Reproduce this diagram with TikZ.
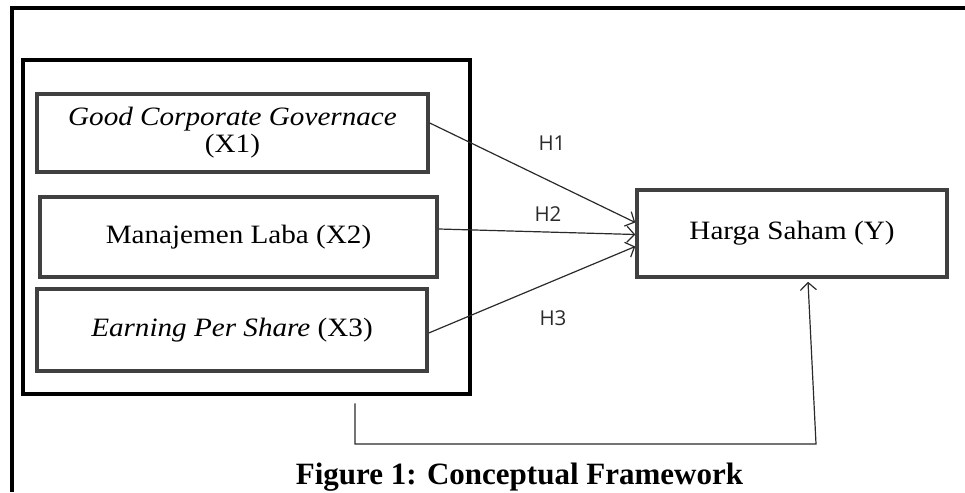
\documentclass[tikz,border=0pt]{standalone}
\usepackage{fontspec}
\setmainfont{Liberation Serif}
\newfontfamily\boxfont[FakeStretch=1.1]{Liberation Serif}
\newfontfamily\hypfont{Open Sans}
\usetikzlibrary{arrows.meta}
\definecolor{boxgray}{HTML}{404040}
\definecolor{linegray}{HTML}{2A2A2A}

\begin{document}
\begin{tikzpicture}[x=1pt,y=-1pt,
    var/.style={draw=boxgray,line width=3.5pt,minimum width=#1,align=center,
      inner sep=0pt,font=\boxfont\fontsize{26.5}{27}\selectfont},
    hyp/.style={font=\hypfont\fontsize{20.5}{22}\selectfont,text=linegray},
    link/.style={draw=linegray,line width=1.2pt,-{Straight Barb[length=7.5pt,width=16pt,line width=1.2pt]}}]
    \useasboundingbox (0,0) rectangle (965,492);

    % frame round the whole figure
    \draw[line width=3.5pt] (12,492) -- (12,8) -- (965,8);
    \draw (246.5,227) node[draw,line width=4.5pt,minimum width=447pt,minimum height=334pt] (group) {};

    \draw (232.5,133) node[var=391pt,minimum height=78pt] (X1) {\textit{Good Corporate Governace}\\(X1)};
    \draw (238.5,237) node[var=397pt,minimum height=80pt] (X2) {Manajemen Laba (X2)};
    \draw (232,330) node[var=390pt,minimum height=82pt] (X3) {\textit{Earning Per Share} (X3)};
    \draw (792,233.5) node[var=310pt,minimum height=87pt] (Y) {Harga Saham (Y)};

    \draw (552,143) node[hyp] (H1) {H1};
    \draw (548,214) node[hyp] (H2) {H2};
    \draw (553,318) node[hyp] (H3) {H3};

    \draw[link] ([yshift=10pt]X1.east) -- ([yshift=11pt]Y.west);
    \draw[link] ([yshift=8pt]X2.east) -- ([yshift=-1pt]Y.west);
    \draw[link] ([yshift=-3pt]X3.east) -- ([yshift=-13pt]Y.west);

    \coordinate (fb) at (816,444);
    \draw[link] ([xshift=108.5pt,yshift=-7pt]group.south) |- (fb) -- ([xshift=16pt,yshift=-3pt]Y.south);

    \draw (519.5,484) node[anchor=base,font=\bfseries\fontsize{31}{34}\selectfont] (caption) {Figure 1: Conceptual Framework};
\end{tikzpicture}
\end{document}
